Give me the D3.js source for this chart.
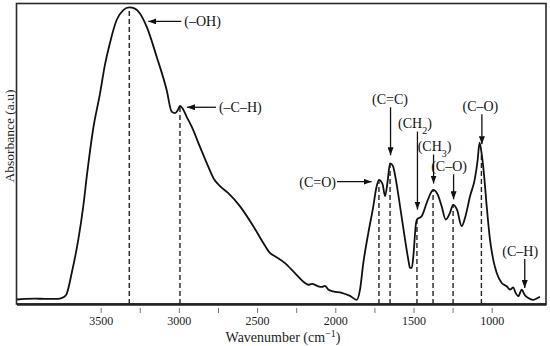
<!DOCTYPE html>
<html>
<head>
<meta charset="utf-8">
<script src="https://cdn.jsdelivr.net/npm/d3@7"></script>
<style>
  body { margin: 0; background: #fff; }
  svg { display: block; font-family: "Liberation Serif", "Times New Roman", serif; }
</style>
</head>
<body>
<svg id="chart" width="550" height="346"></svg>
<script>
'use strict';

// FTIR spectrum: wavenumber (cm-1) and absorbance (a.u., 0..1)
var wavenumber = [4035, 3984, 3920, 3856, 3792, 3760, 3735, 3717, 3685, 3643, 3611, 3586, 3549, 3504,
  3473, 3441, 3398, 3355, 3317, 3281, 3249, 3206, 3142, 3078, 3046, 3025, 3006, 2993, 2974, 2950,
  2918, 2865, 2812, 2776, 2737, 2684, 2609, 2524, 2460, 2418, 2386, 2322, 2258, 2194, 2173, 2149,
  2109, 2085, 2066, 2045, 2013, 1959, 1906, 1863, 1842, 1821, 1789, 1757, 1738, 1721, 1698, 1682,
  1666, 1650, 1631, 1618, 1586, 1554, 1533, 1522, 1511, 1501, 1485, 1478, 1448, 1416, 1390, 1375,
  1345, 1320, 1294, 1267, 1247, 1222, 1192, 1171, 1139, 1107, 1090, 1078, 1066, 1049, 1032, 1011,
  990, 968, 936, 904, 883, 862, 847, 830, 808, 790, 766, 734, 691, 655];
var absorbance = [0.015, 0.017, 0.018, 0.017, 0.017, 0.018, 0.023, 0.034, 0.103, 0.214, 0.326, 0.436, 0.579, 0.701,
  0.795, 0.868, 0.945, 0.978, 0.987, 0.983, 0.967, 0.923, 0.823, 0.712, 0.640, 0.635, 0.646, 0.659, 0.649, 0.623,
  0.590, 0.523, 0.457, 0.416, 0.392, 0.369, 0.325, 0.259, 0.203, 0.170, 0.159, 0.136, 0.103, 0.070, 0.064, 0.067,
  0.059, 0.057, 0.060, 0.048, 0.042, 0.037, 0.027, 0.014, 0.048, 0.136, 0.236, 0.325, 0.386, 0.413, 0.399, 0.359,
  0.406, 0.468, 0.459, 0.429, 0.325, 0.214, 0.147, 0.120, 0.120, 0.159, 0.265, 0.281, 0.292, 0.336, 0.369, 0.380,
  0.364, 0.325, 0.281, 0.303, 0.330, 0.314, 0.259, 0.286, 0.358, 0.419, 0.479, 0.537, 0.506, 0.429, 0.325,
  0.214, 0.147, 0.103, 0.070, 0.059, 0.048, 0.055, 0.037, 0.026, 0.048, 0.031, 0.020, 0.014, 0.023];

// assigned bands
var bandNames = ["(–OH)", "(–C–H)", "(C=O)", "(C=C)", "(CH2)", "(CH3)", "(C–O)", "(C–O)", "(C–H)"];
var bandWavenumbers = [3317, 2993, 1721, 1650, 1478, 1375, 1247, 1066, 792];
var bandDashed = [true, true, true, true, true, true, true, true, false];

var tickValues = [3500, 3250, 3000, 2750, 2500, 2250, 2000, 1750, 1500, 1250, 1000];
var xTitle = "Wavenumber (cm";
var yTitle = "Absorbance (a.u)";

var spectrum = wavenumber.map(function (w, i) { return {w: w, a: absorbance[i]}; });

var box = {left: 16.5, right: 546, top: 3.5, bottom: 304};
var svg = d3.select("#chart");

var x = d3.scaleLinear().domain([4038, 653]).range([box.left, box.right]);
var y = d3.scaleLinear().domain([0, 1]).range([box.bottom, box.top]);

// absorbance on the curve at a given wavenumber (linear between read points)
function curveAt(w) {
  for (var i = 0; i < spectrum.length - 1; i++) {
    var p = spectrum[i], q = spectrum[i + 1];
    if (w <= p.w && w >= q.w) {
      return p.a + (q.a - p.a) * (p.w - w) / (p.w - q.w);
    }
  }
  return 0;
}

svg.append("defs").append("clipPath").attr("id", "clip")
  .append("rect")
  .attr("x", box.left).attr("y", box.top)
  .attr("width", box.right - box.left).attr("height", box.bottom - box.top);

svg.append("defs").append("marker")
  .attr("id", "head")
  .attr("markerUnits", "userSpaceOnUse")
  .attr("viewBox", "0 0 8 6")
  .attr("markerWidth", 8).attr("markerHeight", 6)
  .attr("refX", 8).attr("refY", 3)
  .attr("orient", "auto")
  .append("path").attr("d", "M0,0L8,3L0,6Z").attr("fill", "#111");

// dashed drop lines from axis to band maxima
svg.append("g").selectAll("line")
  .data(bandWavenumbers.filter(function (w, i) { return bandDashed[i]; }))
  .enter().append("line")
  .attr("x1", function (d) { return x(d); })
  .attr("x2", function (d) { return x(d); })
  .attr("y1", y(0))
  .attr("y2", function (d) { return y(curveAt(d)); })
  .attr("stroke", "#222")
  .attr("stroke-width", 1.4)
  .attr("stroke-dasharray", "5,3");

// the spectrum
var line = d3.line()
  .x(function (d) { return x(d.w); })
  .y(function (d) { return y(d.a); })
  .curve(d3.curveMonotoneX);

svg.append("path")
  .datum(spectrum)
  .attr("clip-path", "url(#clip)")
  .attr("d", line)
  .attr("fill", "none")
  .attr("stroke", "#111")
  .attr("stroke-width", 1.8)
  .attr("stroke-linejoin", "round");

// frame
svg.append("rect")
  .attr("x", box.left).attr("y", box.top)
  .attr("width", box.right - box.left).attr("height", box.bottom - box.top)
  .attr("fill", "none")
  .attr("stroke", "#2a2a2a")
  .attr("stroke-width", 1.6);

// bottom axis, ticks hang a little below the axis line
var xAxis = svg.append("g")
  .attr("transform", "translate(0," + box.bottom + ")")
  .call(d3.axisBottom(x)
    .tickValues(tickValues)
    .tickSizeOuter(0)
    .tickFormat(function (d) { return d % 500 === 0 ? d : ""; }));
xAxis.select(".domain").attr("stroke", "#222").attr("stroke-width", 2.4);
xAxis.selectAll(".tick line")
  .attr("y1", 4).attr("y2", 9)
  .attr("stroke", "#777").attr("stroke-width", 1);
xAxis.selectAll(".tick text")
  .attr("y", 21).attr("dy", 0)
  .attr("fill", "#222")
  .style("font-family", "Liberation Serif, serif")
  .style("font-size", "12px");

// axis titles
var xt = svg.append("text")
  .attr("x", 283).attr("y", 341.5)
  .attr("text-anchor", "middle")
  .attr("fill", "#222")
  .style("font-size", "14px");
xt.append("tspan").text(xTitle);
xt.append("tspan").attr("baseline-shift", "super").style("font-size", "10px").text("−1");
xt.append("tspan").text(")");

svg.append("text")
  .attr("transform", "translate(14,136) rotate(-90)")
  .attr("text-anchor", "middle")
  .attr("fill", "#222")
  .style("font-size", "13.5px")
  .text(yTitle);

// annotation layout per band: horizontal arrows ("left"/"right") or vertical ("down")
var layout = [
  {kind: "left", dx: 19, dy: 14, len: 33},
  {kind: "left", dx: 7, dy: 1.3, len: 29},
  {kind: "right", dx: -7.3, dy: 1.8, len: 34.7},
  {kind: "down", gap: 8, len: 48, tx: 0},
  {kind: "down", gap: 10, len: 78, tx: -2},
  {kind: "down", gap: 6.3, len: 29, tx: 1.5},
  {kind: "down", gap: 5.5, len: 25, tx: -4},
  {kind: "down", gap: 7.6, len: 30, tx: -1},
  {kind: "down", gap: 6, len: 29, tx: -4}
];

function labelText(sel, s) {
  // digits become subscripts: CH2 -> CH₂
  s.split(/(\d)/).forEach(function (part) {
    if (!part) return;
    if (/\d/.test(part)) {
      sel.append("tspan").attr("baseline-shift", "sub").style("font-size", "10px").text(part);
    } else {
      sel.append("tspan").text(part);
    }
  });
}

var ann = svg.append("g").attr("fill", "#111").style("font-size", "14px");

bandWavenumbers.forEach(function (w, i) {
  var L = layout[i];
  var px = x(w), py = y(curveAt(w));
  var t;
  if (L.kind === "left") {
    var tipX = px + L.dx, ay = py + L.dy;
    ann.append("line")
      .attr("x1", tipX + L.len).attr("y1", ay).attr("x2", tipX).attr("y2", ay)
      .attr("stroke", "#111").attr("stroke-width", 1.3).attr("marker-end", "url(#head)");
    t = ann.append("text").attr("x", tipX + L.len + 3).attr("y", ay).attr("dy", "0.35em");
  } else if (L.kind === "right") {
    var tipX2 = px + L.dx, ay2 = py + L.dy;
    ann.append("line")
      .attr("x1", tipX2 - L.len).attr("y1", ay2).attr("x2", tipX2).attr("y2", ay2)
      .attr("stroke", "#111").attr("stroke-width", 1.3).attr("marker-end", "url(#head)");
    t = ann.append("text").attr("x", tipX2 - L.len - 1).attr("y", ay2).attr("dy", "0.35em")
      .attr("text-anchor", "end");
  } else {
    var tipY = py - L.gap;
    ann.append("line")
      .attr("x1", px + 0.5).attr("y1", tipY - L.len).attr("x2", px + 0.5).attr("y2", tipY)
      .attr("stroke", "#111").attr("stroke-width", 1.3).attr("marker-end", "url(#head)");
    t = ann.append("text").attr("x", px + L.tx).attr("y", tipY - L.len - 3.5)
      .attr("text-anchor", "middle");
  }
  labelText(t, bandNames[i]);
});
</script>
</body>
</html>
